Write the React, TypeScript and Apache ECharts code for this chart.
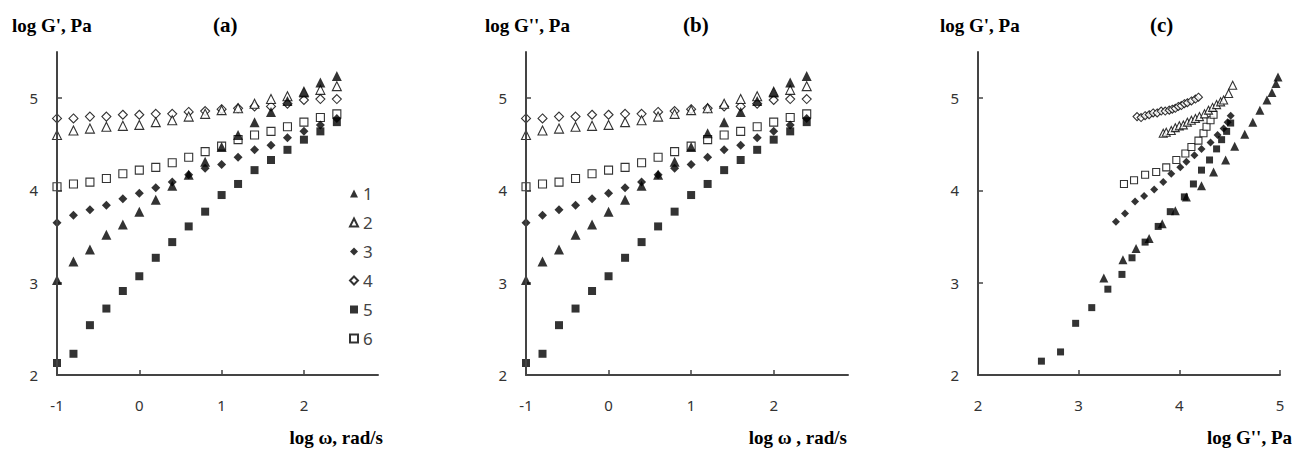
import React, { useEffect, useRef } from "react";
import * as echarts from "echarts";

// log ω values (rad/s) for panels (a) and (b)
const logOmega = [-1, -0.8, -0.6, -0.4, -0.2, 0, 0.2, 0.4, 0.6, 0.8, 1.0, 1.2, 1.4, 1.6, 1.8, 2.0, 2.2, 2.4];

// panel (a) log G' series 1..6
const gp1 = [3.03, 3.23, 3.36, 3.52, 3.63, 3.77, 3.9, 4.05, 4.17, 4.31, 4.47, 4.6, 4.74, 4.85, 4.97, 5.06, 5.17, 5.24];
const gp2 = [4.6, 4.65, 4.67, 4.69, 4.7, 4.71, 4.74, 4.76, 4.8, 4.83, 4.87, 4.89, 4.94, 4.99, 5.02, 5.07, 5.09, 5.13];
const gp3 = [3.65, 3.73, 3.79, 3.84, 3.91, 3.97, 4.03, 4.09, 4.17, 4.24, 4.28, 4.36, 4.44, 4.49, 4.57, 4.64, 4.71, 4.78];
const gp4 = [4.78, 4.78, 4.8, 4.8, 4.82, 4.82, 4.83, 4.83, 4.85, 4.86, 4.88, 4.89, 4.91, 4.91, 4.94, 4.98, 4.99, 4.99];
const gp5 = [2.13, 2.23, 2.54, 2.72, 2.91, 3.07, 3.27, 3.44, 3.61, 3.77, 3.95, 4.07, 4.22, 4.33, 4.44, 4.55, 4.64, 4.74];
const gp6 = [4.04, 4.07, 4.09, 4.13, 4.18, 4.22, 4.25, 4.3, 4.36, 4.42, 4.48, 4.55, 4.6, 4.64, 4.69, 4.74, 4.79, 4.83];

// panel (b) log G'' series 1..6 (as drawn in the figure)
const gpp1 = [3.03, 3.23, 3.36, 3.52, 3.63, 3.77, 3.9, 4.05, 4.17, 4.31, 4.47, 4.62, 4.74, 4.85, 4.97, 5.06, 5.17, 5.24];
const gpp2 = [4.6, 4.65, 4.67, 4.69, 4.7, 4.71, 4.74, 4.76, 4.8, 4.83, 4.87, 4.89, 4.94, 4.99, 5.02, 5.07, 5.09, 5.13];
const gpp3 = [3.65, 3.73, 3.79, 3.84, 3.91, 3.97, 4.03, 4.09, 4.17, 4.24, 4.28, 4.36, 4.44, 4.49, 4.57, 4.64, 4.71, 4.78];
const gpp4 = [4.78, 4.78, 4.8, 4.8, 4.82, 4.82, 4.83, 4.83, 4.85, 4.86, 4.88, 4.89, 4.91, 4.91, 4.94, 4.98, 4.99, 4.99];
const gpp5 = [2.13, 2.23, 2.54, 2.72, 2.91, 3.07, 3.27, 3.44, 3.61, 3.77, 3.95, 4.07, 4.22, 4.33, 4.44, 4.55, 4.64, 4.74];
const gpp6 = [4.04, 4.07, 4.09, 4.13, 4.18, 4.22, 4.25, 4.3, 4.36, 4.42, 4.48, 4.55, 4.6, 4.64, 4.69, 4.74, 4.79, 4.83];

// panel (c): log G'' (x) vs log G' (y)
const c1x = [3.25, 3.44, 3.57, 3.7, 3.83, 3.96, 4.07, 4.22, 4.34, 4.46, 4.55, 4.65, 4.73, 4.8, 4.87, 4.92, 4.96, 4.98];
const c1y = [3.05, 3.25, 3.37, 3.48, 3.64, 3.78, 3.93, 4.05, 4.2, 4.33, 4.48, 4.61, 4.74, 4.87, 4.98, 5.06, 5.16, 5.23];
const c2x = [3.84, 3.87, 3.92, 3.96, 4.0, 4.04, 4.08, 4.12, 4.16, 4.2, 4.25, 4.29, 4.33, 4.37, 4.41, 4.44, 4.49, 4.53];
const c2y = [4.62, 4.63, 4.65, 4.68, 4.7, 4.71, 4.74, 4.76, 4.78, 4.8, 4.83, 4.87, 4.9, 4.93, 4.96, 4.98, 5.05, 5.14];
const c3x = [3.37, 3.46, 3.56, 3.65, 3.75, 3.84, 3.92, 4.01, 4.07, 4.15, 4.22, 4.31, 4.38, 4.44, 4.48, 4.51];
const c3y = [3.66, 3.75, 3.88, 3.94, 4.01, 4.09, 4.18, 4.25, 4.31, 4.38, 4.45, 4.52, 4.6, 4.67, 4.74, 4.81];
const c4x = [3.58, 3.62, 3.66, 3.7, 3.74, 3.78, 3.82, 3.86, 3.9, 3.93, 3.96, 3.99, 4.02, 4.05, 4.08, 4.12, 4.16, 4.19];
const c4y = [4.8, 4.79, 4.81, 4.82, 4.84, 4.84, 4.86, 4.86, 4.87, 4.88, 4.89, 4.91, 4.92, 4.94, 4.95, 4.97, 4.99, 5.01];
const c5x = [2.63, 2.82, 2.97, 3.13, 3.29, 3.43, 3.53, 3.66, 3.79, 3.91, 4.05, 4.14, 4.22, 4.3, 4.37, 4.42, 4.47, 4.51];
const c5y = [2.15, 2.25, 2.56, 2.73, 2.93, 3.09, 3.27, 3.44, 3.61, 3.77, 3.93, 4.07, 4.22, 4.33, 4.45, 4.55, 4.64, 4.73];
const c6x = [3.45, 3.55, 3.66, 3.77, 3.87, 3.97, 4.06, 4.12, 4.19, 4.24, 4.27, 4.31, 4.34];
const c6y = [4.07, 4.11, 4.17, 4.2, 4.25, 4.33, 4.4, 4.47, 4.54, 4.62, 4.69, 4.76, 4.82];

const seriesNames = ["1", "2", "3", "4", "5", "6"];
const yTicks = [2, 3, 4, 5];
const omegaTicks = [-1, 0, 1, 2];
const gppTicks = [2, 3, 4, 5];

// axis extents per panel: [xmin, xmax, ymin, ymax]
const extents = [
  [-1, 2.9, 2, 5.5],
  [-1, 2.9, 2, 5.5],
  [2, 5, 2, 5.5],
];
const xTickSets = [omegaTicks, omegaTicks, gppTicks];

const markers = [
  { symbol: "triangle", size: 10, filled: true },
  { symbol: "triangle", size: 9, filled: false },
  { symbol: "diamond", size: 9, filled: true },
  { symbol: "diamond", size: 9, filled: false },
  { symbol: "rect", size: 8, filled: true },
  { symbol: "rect", size: 8, filled: false },
];

const LABEL_FONT = "Noto Sans";
const TITLE_FONT = "bold 19px Liberation Serif";
const PANEL_FONT = "bold 21px Liberation Serif";
const AXIS_COLOR = "#444";

export default function App() {
  const ref = useRef<HTMLDivElement>(null);
  useEffect(() => {
    if (!ref.current) return;
    const chart = echarts.init(ref.current, undefined, { renderer: "svg" });

    const mkLabel = (margin: number) => ({
      margin,
      color: "#333",
      fontSize: 15,
      fontFamily: LABEL_FONT,
      formatter: (v: number) => (Math.abs(v - Math.round(v)) < 1e-6 ? String(Math.round(v)) : ""),
    });
    const mkLine = () => ({ show: true, onZero: false, lineStyle: { color: AXIS_COLOR, width: 2 } });
    const mkTick = (vals: number[]) => ({
      show: true,
      inside: true,
      length: 5,
      customValues: vals,
      lineStyle: { color: AXIS_COLOR, width: 1.5 },
    });

    const grids = [
      { left: 57, top: 52, width: 321, height: 323 },
      { left: 526, top: 52, width: 322, height: 323 },
      { left: 978, top: 52, width: 302, height: 323 },
    ];

    const xAxes = extents.map((e, g) => ({
      gridIndex: g,
      type: "value",
      position: "bottom",
      min: e[0],
      max: e[1],
      interval: 1,
      axisLine: mkLine(),
      axisTick: mkTick(xTickSets[g]),
      axisLabel: mkLabel(22),
      splitLine: { show: false },
    }));
    const yAxes = extents.map((e, g) => ({
      gridIndex: g,
      type: "value",
      position: "left",
      min: e[2],
      max: e[3],
      interval: 1,
      axisLine: mkLine(),
      axisTick: mkTick(yTicks),
      axisLabel: mkLabel(19),
      splitLine: { show: false },
    }));

    const panelA = [gp1, gp2, gp3, gp4, gp5, gp6];
    const panelB = [gpp1, gpp2, gpp3, gpp4, gpp5, gpp6];
    const panelCx = [c1x, c2x, c3x, c4x, c5x, c6x];
    const panelCy = [c1y, c2y, c3y, c4y, c5y, c6y];

    const style = (m: { filled: boolean }) =>
      m.filled
        ? { color: "#000", borderColor: "#000", borderWidth: 0 }
        : { color: "#fff", borderColor: "#000", borderWidth: 1.1 };

    const series: any[] = [];
    [panelA, panelB].forEach((panel, g) => {
      seriesNames.forEach((name, k) => {
        const m = markers[k];
        series.push({
          name,
          type: "scatter",
          xAxisIndex: g,
          yAxisIndex: g,
          symbol: m.symbol,
          symbolSize: m.size,
          itemStyle: style(m),
          data: logOmega.map((x, i) => [x, panel[k][i]]),
          z: 10 - k,
        });
      });
    });
    seriesNames.forEach((name, k) => {
      const m = markers[k];
      series.push({
        name,
        type: "scatter",
        xAxisIndex: 2,
        yAxisIndex: 2,
        symbol: m.symbol,
        symbolSize: m.size - 1,
        itemStyle: style(m),
        data: panelCx[k].map((x, i) => [x, panelCy[k][i]]),
        z: 10 - k,
      });
    });

    const text = (id: string, t: string, x: number, y: number, font = TITLE_FONT, align = "left") => ({
      id,
      type: "text",
      style: { text: t, x, y, font, fill: "#000", align, verticalAlign: "middle" },
    });

    const texts = [
      text("ta1", "log G', Pa", 12, 25),
      text("ta2", "(a)", 213, 25, PANEL_FONT),
      text("ta3", "log ω, rad/s", 383, 437, TITLE_FONT, "right"),
      text("tb1", "log G'', Pa", 485, 25),
      text("tb2", "(b)", 683, 25, PANEL_FONT),
      text("tb3", "log ω , rad/s", 847, 437, TITLE_FONT, "right"),
      text("tc1", "log G', Pa", 940, 25),
      text("tc2", "(c)", 1150, 25, PANEL_FONT),
      text("tc3", "log G'', Pa", 1292, 437, TITLE_FONT, "right"),
    ];

    chart.setOption({
      animation: false,
      grid: grids,
      xAxis: xAxes,
      yAxis: yAxes,
      legend: {
        data: seriesNames,
        orient: "vertical",
        left: 344,
        top: 180,
        itemWidth: 8,
        itemHeight: 8,
        itemGap: 12,
        textStyle: { color: "#444", fontSize: 17, fontFamily: LABEL_FONT, lineHeight: 17 },
        selectedMode: false,
      },
      graphic: texts,
      series,
    });

    // backup axis lines, positioned through the chart's own scales
    const axisEls: any[] = [];
    const lineEl = (id: string, x1: number, y1: number, x2: number, y2: number, w = 2) => ({
      id,
      type: "line",
      silent: true,
      z: 100,
      shape: { x1, y1, x2, y2 },
      style: { stroke: AXIS_COLOR, lineWidth: w },
    });
    extents.forEach((e, g) => {
      const finder = { xAxisIndex: g, yAxisIndex: g } as any;
      const p0 = chart.convertToPixel(finder, [e[0], e[2]]) as any;
      const p1 = chart.convertToPixel(finder, [e[1], e[3]]) as any;
      if (!p0 || !p1) return;
      axisEls.push(lineEl(`ya${g}`, p0[0], p1[1], p0[0], p0[1]));
      axisEls.push(lineEl(`xa${g}`, p0[0], p0[1], p1[0], p0[1]));
    });
    if (axisEls.length) chart.setOption({ graphic: [...texts, ...axisEls] });

    return () => chart.dispose();
  }, []);

  return (
    <div
      ref={ref}
      style={{ position: "fixed", left: 0, top: 0, width: 1292, height: 449, background: "#fff" }}
    />
  );
}
